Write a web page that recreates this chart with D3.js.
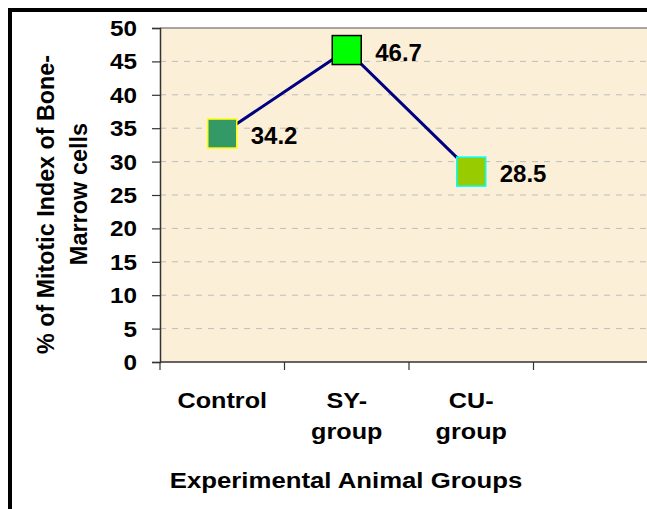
<!DOCTYPE html>
<html>
<head>
<meta charset="utf-8">
<script src="https://cdn.jsdelivr.net/npm/d3@7"></script>
<style>
 body { margin:0; background:#fff; }
 text { font-family: Arial, "Liberation Sans", sans-serif; font-weight:bold; fill:#000; }
</style>
</head>
<body>
<script>
// data
var groups = ["Control", "SY-group", "CU-group", ""];
var groupLines = [["Control"], ["SY-", "group"], ["CU-", "group"], []];
var mitoticIndex = [34.2, 46.7, 28.5];
var markerFill = ["#339966", "#00ff00", "#99cc00"];
var markerStroke = ["#ffff00", "#000000", "#00ffff"];
var yTicks = [0, 5, 10, 15, 20, 25, 30, 35, 40, 45, 50];

var width = 647, height = 509;
var plot = {left: 160, top: 28, right: 658, bottom: 362};

var svg = d3.select("body").append("svg")
  .attr("width", width).attr("height", height);

// writes a (possibly multi line) label, stretched horizontally by sx
function label(x0, y0, lines, size, anchor, rot, lh, sx) {
  var g = svg.append("g")
    .attr("transform", "translate(" + x0 + "," + y0 + ")" + (rot ? " rotate(" + rot + ")" : "") + " scale(" + sx + ",1)");
  var t = g.append("text").attr("text-anchor", anchor).style("font-size", size + "px");
  lines.forEach(function(s, k) {
    t.append("tspan").attr("x", 0).attr("dy", k === 0 ? 0 : lh).text(s);
  });
  return t;
}

// outer frame (only left/top visible in the crop)
svg.append("rect").attr("x", 10).attr("y", 10)
  .attr("width", 700).attr("height", 600)
  .attr("fill", "none").attr("stroke", "#000").attr("stroke-width", 4);

var x = d3.scaleBand().domain(groups).range([plot.left, plot.right]);
var y = d3.scaleLinear().domain([0, 50]).range([plot.bottom, plot.top]);

// plot background
svg.append("rect")
  .attr("x", plot.left).attr("y", plot.top)
  .attr("width", plot.right - plot.left).attr("height", plot.bottom - plot.top)
  .attr("fill", "#fcefd7");

// dashed grid
svg.append("g").selectAll("line")
  .data(yTicks.filter(function(d){ return d > 0 && d < 50; }))
  .enter().append("line")
  .attr("x1", plot.left).attr("x2", plot.right)
  .attr("y1", function(d){ return y(d); }).attr("y2", function(d){ return y(d); })
  .attr("stroke", "#bdbdbd").attr("stroke-width", 1)
  .attr("stroke-dasharray", "6,6");

// top border of plot
svg.append("line")
  .attr("x1", plot.left).attr("x2", plot.right)
  .attr("y1", plot.top).attr("y2", plot.top)
  .attr("stroke", "#8a8a8a").attr("stroke-width", 1.5);

// y axis
var yAxis = svg.append("g")
  .attr("transform", "translate(" + plot.left + ",0)")
  .call(d3.axisLeft(y).tickValues(yTicks).tickSize(8).tickFormat(""));
yAxis.select(".domain").attr("stroke", "#333").attr("stroke-width", 1.5);
yAxis.selectAll(".tick line").attr("stroke", "#333").attr("stroke-width", 1.2);
yTicks.forEach(function(v) {
  label(137, y(v) + 8, [String(v)], 22.5, "end", 0, 0, 1.08);
});

// x axis: ticks on band boundaries
var bounds = groups.map(function(g){ return x(g); }).concat([plot.right]);
svg.append("line")
  .attr("x1", plot.left).attr("x2", plot.right)
  .attr("y1", plot.bottom).attr("y2", plot.bottom)
  .attr("stroke", "#333").attr("stroke-width", 1.5);
svg.append("g").selectAll("line").data(bounds).enter().append("line")
  .attr("x1", function(d){ return d; }).attr("x2", function(d){ return d; })
  .attr("y1", plot.bottom).attr("y2", plot.bottom + 8)
  .attr("stroke", "#333").attr("stroke-width", 1.2);

// category labels
groups.forEach(function(g, i) {
  label(x(g) + x.bandwidth() / 2, 408, groupLines[i], 22.5, "middle", 0, 31, 1.12);
});

// axis titles
label(346, 488, ["Experimental Animal Groups"], 23, "middle", 0, 0, 1.12);
label(54, 204.5, ["% of Mitotic Index of Bone-"], 23.3, "middle", -90, 0, 1);
label(86.5, 194, ["Marrow cells"], 23.5, "middle", -90, 0, 1);

// line + markers
var pts = mitoticIndex.map(function(v, i) {
  return {g: groups[i], v: v, fill: markerFill[i], stroke: markerStroke[i]};
});
var line = d3.line()
  .x(function(d){ return x(d.g) + x.bandwidth() / 2; })
  .y(function(d){ return y(d.v); });

svg.append("path").datum(pts)
  .attr("d", line)
  .attr("fill", "none").attr("stroke", "#000080").attr("stroke-width", 3);

var ms = 29;
svg.append("g").selectAll("rect").data(pts).enter().append("rect")
  .attr("x", function(d){ return x(d.g) + x.bandwidth() / 2 - ms / 2; })
  .attr("y", function(d){ return y(d.v) - ms / 2; })
  .attr("width", ms).attr("height", ms)
  .attr("fill", function(d){ return d.fill; })
  .attr("stroke", function(d){ return d.stroke; })
  .attr("stroke-width", 1.5);

svg.append("g").selectAll("text").data(pts).enter().append("text")
  .attr("x", function(d){ return x(d.g) + x.bandwidth() / 2 + 28.5; })
  .attr("y", function(d){ return y(d.v) + 10.5; })
  .style("font-size", "24px")
  .text(function(d){ return d.v.toFixed(1); });
</script>
</body>
</html>
